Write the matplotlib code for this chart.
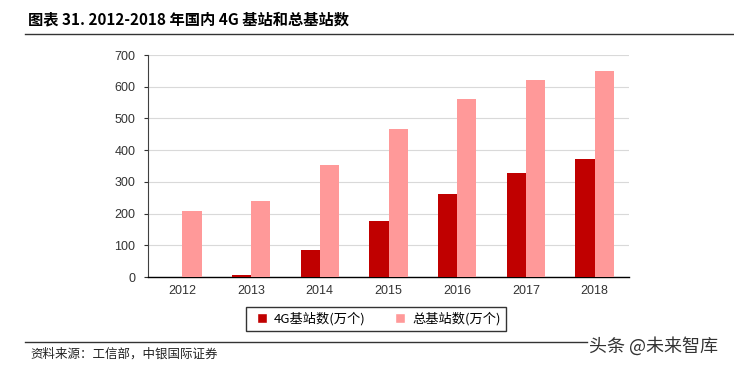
import matplotlib
matplotlib.use("Agg")
import matplotlib.pyplot as plt
import numpy as np
from matplotlib.lines import Line2D

years = ["2012", "2013", "2014", "2015", "2016", "2017", "2018"]
bs_4g = [0, 6, 85, 177, 263, 328, 372]
bs_total = [208, 241, 352, 468, 562, 621, 651]
yticks = [0, 100, 200, 300, 400, 500, 600, 700]

plt.rcParams['font.family'] = ['Liberation Sans', 'Noto Sans CJK SC', 'DejaVu Sans']
cjk = ['Noto Sans CJK SC', 'DejaVu Sans']

fig = plt.figure(figsize=(7.34, 3.71), dpi=100)
ax = fig.add_axes([148/734, 1-277/371, (629-148)/734, (277-55)/371])

x = np.arange(len(years))
w = 0.28
ax.bar(x - w/2, bs_4g, width=w, color='#C00000', zorder=3)
ax.bar(x + w/2, bs_total, width=w, color='#FF9999', zorder=3)

ax.set_xlim(-0.5, len(years) - 0.5)
ax.set_ylim(0, 700)
ax.set_yticks(yticks)
ax.set_xticks(x)
ax.set_xticklabels(years)
ax.tick_params(axis='both', labelsize=9, colors='#333333', length=0, pad=6)
ax.tick_params(axis='y', length=3, direction='out', color='#333333')
ax.grid(axis='y', color='#D9D9D9', linewidth=0.8, zorder=0)
for s in ['top', 'right']:
    ax.spines[s].set_visible(False)
ax.spines['left'].set_color('#404040')
ax.spines['bottom'].set_color('#000000')
ax.spines['bottom'].set_linewidth(1.0)

handles = [Line2D([0], [0], marker='s', color='w', markerfacecolor='#C00000', markersize=7, linestyle=''),
           Line2D([0], [0], marker='s', color='w', markerfacecolor='#FF9999', markersize=7, linestyle='')]
leg = fig.legend(handles, ['4G基站数(万个)', '总基站数(万个)'], loc='center',
                 bbox_to_anchor=(376/734, 1-319/371), ncol=2, frameon=True,
                 prop={'family': cjk, 'size': 9.5}, handletextpad=0.1, columnspacing=1.8,
                 borderpad=0.4, borderaxespad=0, fancybox=False, handlelength=1.6)
leg.get_frame().set_edgecolor('#000000')
leg.get_frame().set_linewidth(1.0)

fig.text(28/734, 1-19/371, '图表 31. 2012-2018 年国内 4G 基站和总基站数', family=cjk,
         fontsize=11, fontweight='bold', va='center', ha='left')
fig.add_artist(Line2D([25/734, 1.0], [1-34/371, 1-34/371], color='#333333', linewidth=1.0))
fig.add_artist(Line2D([25/734, 587/734], [1-342/371, 1-342/371], color='#333333', linewidth=1.0))
fig.text(30/734, 1-354/371, '资料来源：工信部，中银国际证券', family=cjk, fontsize=9,
         style='italic', va='center', ha='left', color='#222222')
fig.text(589/734, 1-346/371, '头条 @未来智库', family=cjk, fontsize=13,
         va='center', ha='left', color='#333333')

fig.savefig('out.png', dpi=100)
